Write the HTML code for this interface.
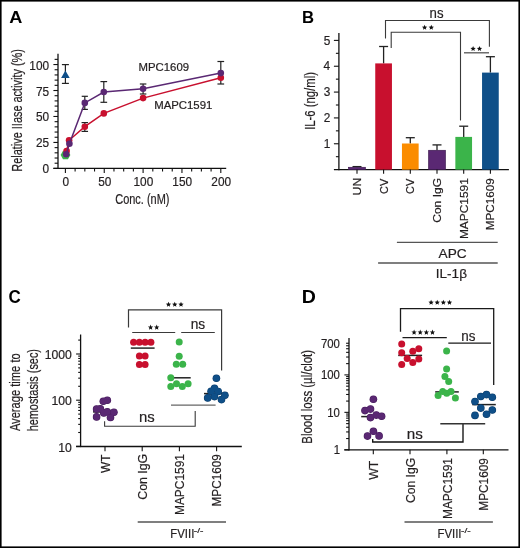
<!DOCTYPE html>
<html><head><meta charset="utf-8"><style>
html,body{margin:0;padding:0;background:#fff;}
body{width:520px;height:548px;overflow:hidden;}
svg{display:block;font-family:"Liberation Sans", sans-serif;will-change:transform;}
</style></head><body>
<svg width="520" height="548" viewBox="0 0 520 548">
<rect x="0" y="0" width="520" height="548" fill="#fff"/>
<text x="9.15" y="22.80" font-size="17.2" font-weight="bold" fill="#000" text-anchor="start" textLength="13.13" lengthAdjust="spacingAndGlyphs">A</text>
<text x="302.08" y="23.10" font-size="17.2" font-weight="bold" fill="#000" text-anchor="start" textLength="12.08" lengthAdjust="spacingAndGlyphs">B</text>
<text x="8.50" y="302.50" font-size="17.9" font-weight="bold" fill="#000" text-anchor="start" textLength="12.26" lengthAdjust="spacingAndGlyphs">C</text>
<text x="301.79" y="302.50" font-size="17.7" font-weight="bold" fill="#000" text-anchor="start" textLength="14.13" lengthAdjust="spacingAndGlyphs">D</text>
<line x1="58.00" y1="53.77" x2="58.00" y2="168.90" stroke="#111" stroke-width="1.3" stroke-linecap="butt"/>
<line x1="53.40" y1="168.30" x2="226.20" y2="168.30" stroke="#111" stroke-width="1.3" stroke-linecap="butt"/>
<line x1="53.40" y1="168.40" x2="58.00" y2="168.40" stroke="#111" stroke-width="1.1" stroke-linecap="butt"/>
<line x1="54.60" y1="163.21" x2="58.00" y2="163.21" stroke="#111" stroke-width="1.1" stroke-linecap="butt"/>
<line x1="54.60" y1="158.02" x2="58.00" y2="158.02" stroke="#111" stroke-width="1.1" stroke-linecap="butt"/>
<line x1="54.60" y1="152.82" x2="58.00" y2="152.82" stroke="#111" stroke-width="1.1" stroke-linecap="butt"/>
<line x1="54.60" y1="147.63" x2="58.00" y2="147.63" stroke="#111" stroke-width="1.1" stroke-linecap="butt"/>
<line x1="53.40" y1="142.44" x2="58.00" y2="142.44" stroke="#111" stroke-width="1.1" stroke-linecap="butt"/>
<line x1="54.60" y1="137.25" x2="58.00" y2="137.25" stroke="#111" stroke-width="1.1" stroke-linecap="butt"/>
<line x1="54.60" y1="132.05" x2="58.00" y2="132.05" stroke="#111" stroke-width="1.1" stroke-linecap="butt"/>
<line x1="54.60" y1="126.86" x2="58.00" y2="126.86" stroke="#111" stroke-width="1.1" stroke-linecap="butt"/>
<line x1="54.60" y1="121.67" x2="58.00" y2="121.67" stroke="#111" stroke-width="1.1" stroke-linecap="butt"/>
<line x1="53.40" y1="116.48" x2="58.00" y2="116.48" stroke="#111" stroke-width="1.1" stroke-linecap="butt"/>
<line x1="54.60" y1="111.28" x2="58.00" y2="111.28" stroke="#111" stroke-width="1.1" stroke-linecap="butt"/>
<line x1="54.60" y1="106.09" x2="58.00" y2="106.09" stroke="#111" stroke-width="1.1" stroke-linecap="butt"/>
<line x1="54.60" y1="100.90" x2="58.00" y2="100.90" stroke="#111" stroke-width="1.1" stroke-linecap="butt"/>
<line x1="54.60" y1="95.71" x2="58.00" y2="95.71" stroke="#111" stroke-width="1.1" stroke-linecap="butt"/>
<line x1="53.40" y1="90.51" x2="58.00" y2="90.51" stroke="#111" stroke-width="1.1" stroke-linecap="butt"/>
<line x1="54.60" y1="85.32" x2="58.00" y2="85.32" stroke="#111" stroke-width="1.1" stroke-linecap="butt"/>
<line x1="54.60" y1="80.13" x2="58.00" y2="80.13" stroke="#111" stroke-width="1.1" stroke-linecap="butt"/>
<line x1="54.60" y1="74.94" x2="58.00" y2="74.94" stroke="#111" stroke-width="1.1" stroke-linecap="butt"/>
<line x1="54.60" y1="69.74" x2="58.00" y2="69.74" stroke="#111" stroke-width="1.1" stroke-linecap="butt"/>
<line x1="53.40" y1="64.55" x2="58.00" y2="64.55" stroke="#111" stroke-width="1.1" stroke-linecap="butt"/>
<line x1="54.60" y1="59.36" x2="58.00" y2="59.36" stroke="#111" stroke-width="1.1" stroke-linecap="butt"/>
<line x1="65.40" y1="168.30" x2="65.40" y2="172.90" stroke="#111" stroke-width="1.1" stroke-linecap="butt"/>
<line x1="75.11" y1="168.30" x2="75.11" y2="171.50" stroke="#111" stroke-width="1.1" stroke-linecap="butt"/>
<line x1="84.83" y1="168.30" x2="84.83" y2="171.50" stroke="#111" stroke-width="1.1" stroke-linecap="butt"/>
<line x1="94.54" y1="168.30" x2="94.54" y2="171.50" stroke="#111" stroke-width="1.1" stroke-linecap="butt"/>
<line x1="104.25" y1="168.30" x2="104.25" y2="172.90" stroke="#111" stroke-width="1.1" stroke-linecap="butt"/>
<line x1="113.96" y1="168.30" x2="113.96" y2="171.50" stroke="#111" stroke-width="1.1" stroke-linecap="butt"/>
<line x1="123.68" y1="168.30" x2="123.68" y2="171.50" stroke="#111" stroke-width="1.1" stroke-linecap="butt"/>
<line x1="133.39" y1="168.30" x2="133.39" y2="171.50" stroke="#111" stroke-width="1.1" stroke-linecap="butt"/>
<line x1="143.10" y1="168.30" x2="143.10" y2="172.90" stroke="#111" stroke-width="1.1" stroke-linecap="butt"/>
<line x1="152.81" y1="168.30" x2="152.81" y2="171.50" stroke="#111" stroke-width="1.1" stroke-linecap="butt"/>
<line x1="162.53" y1="168.30" x2="162.53" y2="171.50" stroke="#111" stroke-width="1.1" stroke-linecap="butt"/>
<line x1="172.24" y1="168.30" x2="172.24" y2="171.50" stroke="#111" stroke-width="1.1" stroke-linecap="butt"/>
<line x1="181.95" y1="168.30" x2="181.95" y2="172.90" stroke="#111" stroke-width="1.1" stroke-linecap="butt"/>
<line x1="191.66" y1="168.30" x2="191.66" y2="171.50" stroke="#111" stroke-width="1.1" stroke-linecap="butt"/>
<line x1="201.38" y1="168.30" x2="201.38" y2="171.50" stroke="#111" stroke-width="1.1" stroke-linecap="butt"/>
<line x1="211.09" y1="168.30" x2="211.09" y2="171.50" stroke="#111" stroke-width="1.1" stroke-linecap="butt"/>
<line x1="220.80" y1="168.30" x2="220.80" y2="172.90" stroke="#111" stroke-width="1.1" stroke-linecap="butt"/>
<text x="42.48" y="173.40" font-size="12.2" font-weight="normal" fill="#231f20" text-anchor="start" textLength="6.58" lengthAdjust="spacingAndGlyphs" stroke="#231f20" stroke-width="0.2">0</text>
<text x="35.93" y="147.44" font-size="12.2" font-weight="normal" fill="#231f20" text-anchor="start" textLength="13.16" lengthAdjust="spacingAndGlyphs" stroke="#231f20" stroke-width="0.2">25</text>
<text x="35.90" y="121.48" font-size="12.2" font-weight="normal" fill="#231f20" text-anchor="start" textLength="13.16" lengthAdjust="spacingAndGlyphs" stroke="#231f20" stroke-width="0.2">50</text>
<text x="35.93" y="95.51" font-size="12.2" font-weight="normal" fill="#231f20" text-anchor="start" textLength="13.16" lengthAdjust="spacingAndGlyphs" stroke="#231f20" stroke-width="0.2">75</text>
<text x="29.32" y="69.55" font-size="12.2" font-weight="normal" fill="#231f20" text-anchor="start" textLength="19.74" lengthAdjust="spacingAndGlyphs" stroke="#231f20" stroke-width="0.2">100</text>
<text x="62.61" y="186.10" font-size="12.2" font-weight="normal" fill="#231f20" text-anchor="start" textLength="6.58" lengthAdjust="spacingAndGlyphs" stroke="#231f20" stroke-width="0.2">0</text>
<text x="98.16" y="186.10" font-size="12.2" font-weight="normal" fill="#231f20" text-anchor="start" textLength="13.16" lengthAdjust="spacingAndGlyphs" stroke="#231f20" stroke-width="0.2">50</text>
<text x="133.51" y="186.10" font-size="12.2" font-weight="normal" fill="#231f20" text-anchor="start" textLength="19.74" lengthAdjust="spacingAndGlyphs" stroke="#231f20" stroke-width="0.2">100</text>
<text x="172.36" y="186.10" font-size="12.2" font-weight="normal" fill="#231f20" text-anchor="start" textLength="19.74" lengthAdjust="spacingAndGlyphs" stroke="#231f20" stroke-width="0.2">150</text>
<text x="211.36" y="186.10" font-size="12.2" font-weight="normal" fill="#231f20" text-anchor="start" textLength="19.74" lengthAdjust="spacingAndGlyphs" stroke="#231f20" stroke-width="0.2">200</text>
<text x="115.24" y="203.60" font-size="14" font-weight="normal" fill="#231f20" text-anchor="start" textLength="54.24" lengthAdjust="spacingAndGlyphs" stroke="#231f20" stroke-width="0.2">Conc. (nM)</text>
<text transform="translate(22.20,171.70) rotate(-90)" x="0" y="0" font-size="14" font-weight="normal" fill="#231f20" textLength="122.67" lengthAdjust="spacingAndGlyphs" stroke="#231f20" stroke-width="0.2">Relative IIase activity (%)</text>
<line x1="65.40" y1="64.60" x2="65.40" y2="83.40" stroke="#222" stroke-width="1.2" stroke-linecap="butt"/>
<line x1="61.90" y1="64.60" x2="68.90" y2="64.60" stroke="#222" stroke-width="1.2" stroke-linecap="butt"/>
<line x1="61.90" y1="83.40" x2="68.90" y2="83.40" stroke="#222" stroke-width="1.2" stroke-linecap="butt"/>
<line x1="84.80" y1="122.60" x2="84.80" y2="131.40" stroke="#222" stroke-width="1.2" stroke-linecap="butt"/>
<line x1="81.55" y1="122.60" x2="88.05" y2="122.60" stroke="#222" stroke-width="1.2" stroke-linecap="butt"/>
<line x1="81.55" y1="131.40" x2="88.05" y2="131.40" stroke="#222" stroke-width="1.2" stroke-linecap="butt"/>
<line x1="84.80" y1="96.30" x2="84.80" y2="109.40" stroke="#222" stroke-width="1.2" stroke-linecap="butt"/>
<line x1="81.70" y1="96.30" x2="87.90" y2="96.30" stroke="#222" stroke-width="1.2" stroke-linecap="butt"/>
<line x1="81.70" y1="109.40" x2="87.90" y2="109.40" stroke="#222" stroke-width="1.2" stroke-linecap="butt"/>
<line x1="103.80" y1="81.60" x2="103.80" y2="102.30" stroke="#222" stroke-width="1.2" stroke-linecap="butt"/>
<line x1="100.45" y1="81.60" x2="107.15" y2="81.60" stroke="#222" stroke-width="1.2" stroke-linecap="butt"/>
<line x1="100.45" y1="102.30" x2="107.15" y2="102.30" stroke="#222" stroke-width="1.2" stroke-linecap="butt"/>
<line x1="143.10" y1="84.00" x2="143.10" y2="94.00" stroke="#222" stroke-width="1.2" stroke-linecap="butt"/>
<line x1="139.85" y1="84.00" x2="146.35" y2="84.00" stroke="#222" stroke-width="1.2" stroke-linecap="butt"/>
<line x1="139.85" y1="94.00" x2="146.35" y2="94.00" stroke="#222" stroke-width="1.2" stroke-linecap="butt"/>
<line x1="220.80" y1="61.50" x2="220.80" y2="84.00" stroke="#222" stroke-width="1.2" stroke-linecap="butt"/>
<line x1="217.45" y1="61.50" x2="224.15" y2="61.50" stroke="#222" stroke-width="1.2" stroke-linecap="butt"/>
<line x1="217.45" y1="84.00" x2="224.15" y2="84.00" stroke="#222" stroke-width="1.2" stroke-linecap="butt"/>
<polygon points="70.40,155.00 67.95,159.24 63.05,159.24 60.60,155.00 63.05,150.76 67.95,150.76" fill="#3bb44a"/>
<polyline points="66.60,151.00 69.10,140.30 84.80,126.70 103.80,113.40 143.10,98.10 220.80,77.70" stroke="#c8102e" stroke-width="1.5" fill="none" stroke-linejoin="miter"/>
<circle cx="66.60" cy="151.00" r="3.3" fill="#c8102e"/>
<circle cx="69.10" cy="140.30" r="3.3" fill="#c8102e"/>
<circle cx="84.80" cy="126.70" r="3.3" fill="#c8102e"/>
<circle cx="103.80" cy="113.40" r="3.3" fill="#c8102e"/>
<circle cx="143.10" cy="98.10" r="3.3" fill="#c8102e"/>
<circle cx="220.80" cy="77.70" r="3.3" fill="#c8102e"/>
<polyline points="66.20,154.20 69.40,143.70 84.80,102.90 103.80,92.00 143.10,88.80 220.80,73.10" stroke="#5a2873" stroke-width="1.5" fill="none" stroke-linejoin="miter"/>
<circle cx="66.20" cy="154.20" r="3.3" fill="#5a2873"/>
<circle cx="69.40" cy="143.70" r="3.3" fill="#5a2873"/>
<circle cx="84.80" cy="102.90" r="3.3" fill="#5a2873"/>
<circle cx="103.80" cy="92.00" r="3.3" fill="#5a2873"/>
<circle cx="143.10" cy="88.80" r="3.3" fill="#5a2873"/>
<circle cx="220.80" cy="73.10" r="3.3" fill="#5a2873"/>
<polygon points="65.4,70.6 69.7,78.1 61.1,78.1" fill="#0f4f88"/>
<text x="138.57" y="71.40" font-size="10.6" font-weight="normal" fill="#231f20" text-anchor="start" textLength="50.47" lengthAdjust="spacingAndGlyphs" stroke="#231f20" stroke-width="0.2">MPC1609</text>
<text x="154.17" y="108.60" font-size="10.6" font-weight="normal" fill="#231f20" text-anchor="start" textLength="58.19" lengthAdjust="spacingAndGlyphs" stroke="#231f20" stroke-width="0.2">MAPC1591</text>
<line x1="338.90" y1="33.10" x2="338.90" y2="170.20" stroke="#111" stroke-width="1.3" stroke-linecap="butt"/>
<line x1="333.90" y1="169.60" x2="508.90" y2="169.60" stroke="#111" stroke-width="1.3" stroke-linecap="butt"/>
<line x1="335.90" y1="156.68" x2="338.90" y2="156.68" stroke="#111" stroke-width="1.1" stroke-linecap="butt"/>
<line x1="333.90" y1="143.76" x2="338.90" y2="143.76" stroke="#111" stroke-width="1.1" stroke-linecap="butt"/>
<line x1="335.90" y1="130.84" x2="338.90" y2="130.84" stroke="#111" stroke-width="1.1" stroke-linecap="butt"/>
<line x1="333.90" y1="117.92" x2="338.90" y2="117.92" stroke="#111" stroke-width="1.1" stroke-linecap="butt"/>
<line x1="335.90" y1="105.00" x2="338.90" y2="105.00" stroke="#111" stroke-width="1.1" stroke-linecap="butt"/>
<line x1="333.90" y1="92.08" x2="338.90" y2="92.08" stroke="#111" stroke-width="1.1" stroke-linecap="butt"/>
<line x1="335.90" y1="79.16" x2="338.90" y2="79.16" stroke="#111" stroke-width="1.1" stroke-linecap="butt"/>
<line x1="333.90" y1="66.24" x2="338.90" y2="66.24" stroke="#111" stroke-width="1.1" stroke-linecap="butt"/>
<line x1="335.90" y1="53.32" x2="338.90" y2="53.32" stroke="#111" stroke-width="1.1" stroke-linecap="butt"/>
<line x1="333.90" y1="40.40" x2="338.90" y2="40.40" stroke="#111" stroke-width="1.1" stroke-linecap="butt"/>
<text x="323.80" y="147.96" font-size="12.2" font-weight="normal" fill="#231f20" text-anchor="start" textLength="6.58" lengthAdjust="spacingAndGlyphs" stroke="#231f20" stroke-width="0.2">1</text>
<text x="323.81" y="122.12" font-size="12.2" font-weight="normal" fill="#231f20" text-anchor="start" textLength="6.58" lengthAdjust="spacingAndGlyphs" stroke="#231f20" stroke-width="0.2">2</text>
<text x="323.74" y="96.28" font-size="12.2" font-weight="normal" fill="#231f20" text-anchor="start" textLength="6.58" lengthAdjust="spacingAndGlyphs" stroke="#231f20" stroke-width="0.2">3</text>
<text x="323.57" y="70.44" font-size="12.2" font-weight="normal" fill="#231f20" text-anchor="start" textLength="6.58" lengthAdjust="spacingAndGlyphs" stroke="#231f20" stroke-width="0.2">4</text>
<text x="323.72" y="44.60" font-size="12.2" font-weight="normal" fill="#231f20" text-anchor="start" textLength="6.58" lengthAdjust="spacingAndGlyphs" stroke="#231f20" stroke-width="0.2">5</text>
<text transform="translate(315.00,129.84) rotate(-90)" x="0" y="0" font-size="14" font-weight="normal" fill="#231f20" textLength="57.74" lengthAdjust="spacingAndGlyphs" stroke="#231f20" stroke-width="0.2">IL-6 (ng/ml)</text>
<line x1="357.00" y1="167.30" x2="357.00" y2="166.60" stroke="#222" stroke-width="1.3" stroke-linecap="butt"/>
<line x1="352.50" y1="166.60" x2="361.50" y2="166.60" stroke="#222" stroke-width="1.3" stroke-linecap="butt"/>
<rect x="348.65" y="167.30" width="16.7" height="2.30" fill="#5a2873" stroke="#3d1a50" stroke-width="0.7"/>
<line x1="383.60" y1="63.40" x2="383.60" y2="46.50" stroke="#222" stroke-width="1.3" stroke-linecap="butt"/>
<line x1="379.10" y1="46.50" x2="388.10" y2="46.50" stroke="#222" stroke-width="1.3" stroke-linecap="butt"/>
<rect x="375.25" y="63.40" width="16.7" height="106.20" fill="#c8102e"/>
<line x1="410.30" y1="143.50" x2="410.30" y2="137.70" stroke="#222" stroke-width="1.3" stroke-linecap="butt"/>
<line x1="405.80" y1="137.70" x2="414.80" y2="137.70" stroke="#222" stroke-width="1.3" stroke-linecap="butt"/>
<rect x="401.95" y="143.50" width="16.7" height="26.10" fill="#fb8c00"/>
<line x1="437.00" y1="150.30" x2="437.00" y2="144.90" stroke="#222" stroke-width="1.3" stroke-linecap="butt"/>
<line x1="432.50" y1="144.90" x2="441.50" y2="144.90" stroke="#222" stroke-width="1.3" stroke-linecap="butt"/>
<rect x="428.65" y="150.30" width="16.7" height="19.30" fill="#5a2873" stroke="#3d1a50" stroke-width="0.7"/>
<line x1="463.70" y1="136.90" x2="463.70" y2="126.20" stroke="#222" stroke-width="1.3" stroke-linecap="butt"/>
<line x1="459.20" y1="126.20" x2="468.20" y2="126.20" stroke="#222" stroke-width="1.3" stroke-linecap="butt"/>
<rect x="455.35" y="136.90" width="16.7" height="32.70" fill="#3bb44a"/>
<line x1="490.40" y1="72.60" x2="490.40" y2="56.70" stroke="#222" stroke-width="1.3" stroke-linecap="butt"/>
<line x1="485.90" y1="56.70" x2="494.90" y2="56.70" stroke="#222" stroke-width="1.3" stroke-linecap="butt"/>
<rect x="482.05" y="72.60" width="16.7" height="97.00" fill="#0f4f88"/>
<line x1="357.00" y1="169.60" x2="357.00" y2="173.80" stroke="#111" stroke-width="1.1" stroke-linecap="butt"/>
<line x1="383.60" y1="169.60" x2="383.60" y2="173.80" stroke="#111" stroke-width="1.1" stroke-linecap="butt"/>
<line x1="410.30" y1="169.60" x2="410.30" y2="173.80" stroke="#111" stroke-width="1.1" stroke-linecap="butt"/>
<line x1="437.00" y1="169.60" x2="437.00" y2="173.80" stroke="#111" stroke-width="1.1" stroke-linecap="butt"/>
<line x1="463.70" y1="169.60" x2="463.70" y2="173.80" stroke="#111" stroke-width="1.1" stroke-linecap="butt"/>
<line x1="490.40" y1="169.60" x2="490.40" y2="173.80" stroke="#111" stroke-width="1.1" stroke-linecap="butt"/>
<text transform="translate(361.00,195.44) rotate(-90)" x="0" y="0" font-size="11.8" font-weight="normal" fill="#231f20" textLength="17.64" lengthAdjust="spacingAndGlyphs" stroke="#231f20" stroke-width="0.2">UN</text>
<text transform="translate(387.60,193.96) rotate(-90)" x="0" y="0" font-size="11.8" font-weight="normal" fill="#231f20" textLength="15.20" lengthAdjust="spacingAndGlyphs" stroke="#231f20" stroke-width="0.2">CV</text>
<text transform="translate(414.30,193.96) rotate(-90)" x="0" y="0" font-size="11.8" font-weight="normal" fill="#231f20" textLength="15.20" lengthAdjust="spacingAndGlyphs" stroke="#231f20" stroke-width="0.2">CV</text>
<text transform="translate(441.00,222.81) rotate(-90)" x="0" y="0" font-size="11.8" font-weight="normal" fill="#231f20" textLength="44.91" lengthAdjust="spacingAndGlyphs" stroke="#231f20" stroke-width="0.2">Con IgG</text>
<text transform="translate(467.70,239.08) rotate(-90)" x="0" y="0" font-size="11.8" font-weight="normal" fill="#231f20" textLength="60.86" lengthAdjust="spacingAndGlyphs" stroke="#231f20" stroke-width="0.2">MAPC1591</text>
<text transform="translate(494.40,230.26) rotate(-90)" x="0" y="0" font-size="11.8" font-weight="normal" fill="#231f20" textLength="52.01" lengthAdjust="spacingAndGlyphs" stroke="#231f20" stroke-width="0.2">MPC1609</text>
<line x1="396.90" y1="242.40" x2="497.70" y2="242.40" stroke="#555" stroke-width="1.3" stroke-linecap="butt"/>
<line x1="378.10" y1="263.00" x2="497.70" y2="263.00" stroke="#555" stroke-width="1.3" stroke-linecap="butt"/>
<text x="438.57" y="258.00" font-size="13.6" font-weight="normal" fill="#231f20" text-anchor="start" textLength="28.05" lengthAdjust="spacingAndGlyphs" stroke="#231f20" stroke-width="0.2">APC</text>
<text x="435.75" y="278.30" font-size="13.6" font-weight="normal" fill="#231f20" text-anchor="start" textLength="31.19" lengthAdjust="spacingAndGlyphs" stroke="#231f20" stroke-width="0.2">IL-1&#946;</text>
<polyline points="385.50,38.60 385.50,20.50 489.40,20.50 489.40,46.70" stroke="#3a3a3a" stroke-width="1.1" fill="none" stroke-linejoin="miter"/>
<polyline points="391.20,47.90 391.20,32.30 460.50,32.30 460.50,120.50" stroke="#3a3a3a" stroke-width="1.1" fill="none" stroke-linejoin="miter"/>
<line x1="464.00" y1="52.80" x2="489.00" y2="52.80" stroke="#555" stroke-width="1.3" stroke-linecap="butt"/>
<text x="429.62" y="17.80" font-size="14" font-weight="normal" fill="#231f20" text-anchor="start" textLength="13.95" lengthAdjust="spacingAndGlyphs" stroke="#231f20" stroke-width="0.2">ns</text>
<polygon points="424.60,24.80 425.34,26.58 427.26,26.73 425.80,27.99 426.25,29.87 424.60,28.86 422.95,29.87 423.40,27.99 421.94,26.73 423.86,26.58" fill="#111"/>
<polygon points="431.30,24.80 432.04,26.58 433.96,26.73 432.50,27.99 432.95,29.87 431.30,28.86 429.65,29.87 430.10,27.99 428.64,26.73 430.56,26.58" fill="#111"/>
<polygon points="473.10,46.00 473.84,47.78 475.76,47.93 474.30,49.19 474.75,51.07 473.10,50.06 471.45,51.07 471.90,49.19 470.44,47.93 472.36,47.78" fill="#111"/>
<polygon points="479.50,46.00 480.24,47.78 482.16,47.93 480.70,49.19 481.15,51.07 479.50,50.06 477.85,51.07 478.30,49.19 476.84,47.93 478.76,47.78" fill="#111"/>
<line x1="80.60" y1="334.50" x2="80.60" y2="447.10" stroke="#111" stroke-width="1.3" stroke-linecap="butt"/>
<line x1="76.10" y1="446.50" x2="241.80" y2="446.50" stroke="#111" stroke-width="1.3" stroke-linecap="butt"/>
<line x1="76.10" y1="446.40" x2="80.60" y2="446.40" stroke="#111" stroke-width="1.1" stroke-linecap="butt"/>
<line x1="78.20" y1="432.49" x2="80.60" y2="432.49" stroke="#111" stroke-width="1.1" stroke-linecap="butt"/>
<line x1="78.20" y1="424.36" x2="80.60" y2="424.36" stroke="#111" stroke-width="1.1" stroke-linecap="butt"/>
<line x1="78.20" y1="418.58" x2="80.60" y2="418.58" stroke="#111" stroke-width="1.1" stroke-linecap="butt"/>
<line x1="78.20" y1="414.11" x2="80.60" y2="414.11" stroke="#111" stroke-width="1.1" stroke-linecap="butt"/>
<line x1="78.20" y1="410.45" x2="80.60" y2="410.45" stroke="#111" stroke-width="1.1" stroke-linecap="butt"/>
<line x1="78.20" y1="407.36" x2="80.60" y2="407.36" stroke="#111" stroke-width="1.1" stroke-linecap="butt"/>
<line x1="78.20" y1="404.68" x2="80.60" y2="404.68" stroke="#111" stroke-width="1.1" stroke-linecap="butt"/>
<line x1="78.20" y1="402.31" x2="80.60" y2="402.31" stroke="#111" stroke-width="1.1" stroke-linecap="butt"/>
<line x1="76.10" y1="400.20" x2="80.60" y2="400.20" stroke="#111" stroke-width="1.1" stroke-linecap="butt"/>
<line x1="78.20" y1="386.29" x2="80.60" y2="386.29" stroke="#111" stroke-width="1.1" stroke-linecap="butt"/>
<line x1="78.20" y1="378.16" x2="80.60" y2="378.16" stroke="#111" stroke-width="1.1" stroke-linecap="butt"/>
<line x1="78.20" y1="372.38" x2="80.60" y2="372.38" stroke="#111" stroke-width="1.1" stroke-linecap="butt"/>
<line x1="78.20" y1="367.91" x2="80.60" y2="367.91" stroke="#111" stroke-width="1.1" stroke-linecap="butt"/>
<line x1="78.20" y1="364.25" x2="80.60" y2="364.25" stroke="#111" stroke-width="1.1" stroke-linecap="butt"/>
<line x1="78.20" y1="361.16" x2="80.60" y2="361.16" stroke="#111" stroke-width="1.1" stroke-linecap="butt"/>
<line x1="78.20" y1="358.48" x2="80.60" y2="358.48" stroke="#111" stroke-width="1.1" stroke-linecap="butt"/>
<line x1="78.20" y1="356.11" x2="80.60" y2="356.11" stroke="#111" stroke-width="1.1" stroke-linecap="butt"/>
<line x1="76.10" y1="354.00" x2="80.60" y2="354.00" stroke="#111" stroke-width="1.1" stroke-linecap="butt"/>
<line x1="78.20" y1="340.09" x2="80.60" y2="340.09" stroke="#111" stroke-width="1.1" stroke-linecap="butt"/>
<text x="58.31" y="451.50" font-size="12.2" font-weight="normal" fill="#231f20" text-anchor="start" textLength="13.57" lengthAdjust="spacingAndGlyphs" stroke="#231f20" stroke-width="0.2">10</text>
<text x="51.52" y="405.30" font-size="12.2" font-weight="normal" fill="#231f20" text-anchor="start" textLength="20.36" lengthAdjust="spacingAndGlyphs" stroke="#231f20" stroke-width="0.2">100</text>
<text x="44.74" y="359.10" font-size="12.2" font-weight="normal" fill="#231f20" text-anchor="start" textLength="27.14" lengthAdjust="spacingAndGlyphs" stroke="#231f20" stroke-width="0.2">1000</text>
<text transform="translate(20.20,431.12) rotate(-90)" x="0" y="0" font-size="14" font-weight="normal" fill="#231f20" textLength="77.79" lengthAdjust="spacingAndGlyphs" stroke="#231f20" stroke-width="0.2">Average time to</text>
<text transform="translate(38.20,431.36) rotate(-90)" x="0" y="0" font-size="14" font-weight="normal" fill="#231f20" textLength="82.33" lengthAdjust="spacingAndGlyphs" stroke="#231f20" stroke-width="0.2">hemostasis (sec)</text>
<line x1="105.00" y1="446.50" x2="105.00" y2="451.20" stroke="#111" stroke-width="1.1" stroke-linecap="butt"/>
<line x1="142.20" y1="446.50" x2="142.20" y2="451.20" stroke="#111" stroke-width="1.1" stroke-linecap="butt"/>
<line x1="179.40" y1="446.50" x2="179.40" y2="451.20" stroke="#111" stroke-width="1.1" stroke-linecap="butt"/>
<line x1="216.60" y1="446.50" x2="216.60" y2="451.20" stroke="#111" stroke-width="1.1" stroke-linecap="butt"/>
<text transform="translate(109.60,472.95) rotate(-90)" x="0" y="0" font-size="12.6" font-weight="normal" fill="#231f20" textLength="18.53" lengthAdjust="spacingAndGlyphs" stroke="#231f20" stroke-width="0.2">WT</text>
<text transform="translate(146.80,499.73) rotate(-90)" x="0" y="0" font-size="12.6" font-weight="normal" fill="#231f20" textLength="45.95" lengthAdjust="spacingAndGlyphs" stroke="#231f20" stroke-width="0.2">Con IgG</text>
<text transform="translate(184.00,514.98) rotate(-90)" x="0" y="0" font-size="12.6" font-weight="normal" fill="#231f20" textLength="60.86" lengthAdjust="spacingAndGlyphs" stroke="#231f20" stroke-width="0.2">MAPC1591</text>
<text transform="translate(221.20,506.47) rotate(-90)" x="0" y="0" font-size="12.6" font-weight="normal" fill="#231f20" textLength="52.32" lengthAdjust="spacingAndGlyphs" stroke="#231f20" stroke-width="0.2">MPC1609</text>
<line x1="137.70" y1="522.00" x2="226.00" y2="522.00" stroke="#555" stroke-width="1.3" stroke-linecap="butt"/>
<text x="170.26" y="537.60" font-size="12.6" font-weight="normal" fill="#231f20" text-anchor="start" textLength="24.09" lengthAdjust="spacingAndGlyphs" stroke="#231f20" stroke-width="0.2">FVIII</text>
<text x="193.85" y="532.60" font-size="7" font-weight="normal" fill="#231f20" text-anchor="start" textLength="9.60" lengthAdjust="spacingAndGlyphs" stroke="#231f20" stroke-width="0.2">-/-</text>
<line x1="93.00" y1="411.90" x2="117.00" y2="411.90" stroke="#222" stroke-width="1.5" stroke-linecap="butt"/>
<line x1="130.80" y1="348.10" x2="154.60" y2="348.10" stroke="#333" stroke-width="1.6" stroke-linecap="butt"/>
<line x1="168.00" y1="377.80" x2="190.70" y2="377.80" stroke="#222" stroke-width="1.5" stroke-linecap="butt"/>
<line x1="204.00" y1="393.60" x2="228.00" y2="393.60" stroke="#222" stroke-width="1.5" stroke-linecap="butt"/>
<circle cx="103.30" cy="401.30" r="3.8" fill="#44195a"/>
<circle cx="107.30" cy="400.20" r="3.8" fill="#44195a"/>
<circle cx="96.60" cy="409.10" r="3.8" fill="#44195a"/>
<circle cx="100.40" cy="408.80" r="3.8" fill="#44195a"/>
<circle cx="103.80" cy="412.90" r="3.8" fill="#44195a"/>
<circle cx="107.30" cy="411.70" r="3.8" fill="#44195a"/>
<circle cx="113.90" cy="412.30" r="3.8" fill="#44195a"/>
<circle cx="96.60" cy="416.90" r="3.8" fill="#44195a"/>
<circle cx="110.50" cy="417.50" r="3.8" fill="#44195a"/>
<circle cx="103.30" cy="401.30" r="3.3" fill="#5a2873"/>
<circle cx="107.30" cy="400.20" r="3.3" fill="#5a2873"/>
<circle cx="96.60" cy="409.10" r="3.3" fill="#5a2873"/>
<circle cx="100.40" cy="408.80" r="3.3" fill="#5a2873"/>
<circle cx="103.80" cy="412.90" r="3.3" fill="#5a2873"/>
<circle cx="107.30" cy="411.70" r="3.3" fill="#5a2873"/>
<circle cx="113.90" cy="412.30" r="3.3" fill="#5a2873"/>
<circle cx="96.60" cy="416.90" r="3.3" fill="#5a2873"/>
<circle cx="110.50" cy="417.50" r="3.3" fill="#5a2873"/>
<circle cx="133.60" cy="342.20" r="3.5" fill="#c8102e"/>
<circle cx="139.40" cy="342.20" r="3.5" fill="#c8102e"/>
<circle cx="145.10" cy="342.20" r="3.5" fill="#c8102e"/>
<circle cx="150.90" cy="342.20" r="3.5" fill="#c8102e"/>
<circle cx="139.40" cy="356.10" r="3.5" fill="#c8102e"/>
<circle cx="145.10" cy="356.10" r="3.5" fill="#c8102e"/>
<circle cx="139.40" cy="364.50" r="3.5" fill="#c8102e"/>
<circle cx="145.10" cy="364.50" r="3.5" fill="#c8102e"/>
<circle cx="179.20" cy="342.10" r="3.5" fill="#3bb44a"/>
<circle cx="179.20" cy="356.20" r="3.5" fill="#3bb44a"/>
<circle cx="176.30" cy="364.20" r="3.5" fill="#3bb44a"/>
<circle cx="182.70" cy="364.20" r="3.5" fill="#3bb44a"/>
<circle cx="170.80" cy="377.80" r="3.5" fill="#3bb44a"/>
<circle cx="170.80" cy="386.40" r="3.5" fill="#3bb44a"/>
<circle cx="176.50" cy="383.80" r="3.5" fill="#3bb44a"/>
<circle cx="182.30" cy="386.40" r="3.5" fill="#3bb44a"/>
<circle cx="188.10" cy="383.80" r="3.5" fill="#3bb44a"/>
<circle cx="216.40" cy="378.20" r="3.8" fill="#0a3b68"/>
<circle cx="214.50" cy="388.20" r="3.8" fill="#0a3b68"/>
<circle cx="211.10" cy="391.20" r="3.8" fill="#0a3b68"/>
<circle cx="218.20" cy="391.50" r="3.8" fill="#0a3b68"/>
<circle cx="207.70" cy="397.90" r="3.8" fill="#0a3b68"/>
<circle cx="214.50" cy="396.60" r="3.8" fill="#0a3b68"/>
<circle cx="221.50" cy="399.60" r="3.8" fill="#0a3b68"/>
<circle cx="224.90" cy="395.20" r="3.8" fill="#0a3b68"/>
<circle cx="216.40" cy="378.20" r="3.3" fill="#0f4f88"/>
<circle cx="214.50" cy="388.20" r="3.3" fill="#0f4f88"/>
<circle cx="211.10" cy="391.20" r="3.3" fill="#0f4f88"/>
<circle cx="218.20" cy="391.50" r="3.3" fill="#0f4f88"/>
<circle cx="207.70" cy="397.90" r="3.3" fill="#0f4f88"/>
<circle cx="214.50" cy="396.60" r="3.3" fill="#0f4f88"/>
<circle cx="221.50" cy="399.60" r="3.3" fill="#0f4f88"/>
<circle cx="224.90" cy="395.20" r="3.3" fill="#0f4f88"/>
<polyline points="128.50,327.50 128.50,309.80 221.60,309.80 221.60,370.50" stroke="#3a3a3a" stroke-width="1.2" fill="none" stroke-linejoin="miter"/>
<line x1="132.20" y1="332.50" x2="175.20" y2="332.50" stroke="#3a3a3a" stroke-width="1.1" stroke-linecap="butt"/>
<line x1="181.20" y1="332.50" x2="214.80" y2="332.50" stroke="#3a3a3a" stroke-width="1.1" stroke-linecap="butt"/>
<polygon points="168.50,301.80 169.24,303.58 171.16,303.73 169.70,304.99 170.15,306.87 168.50,305.86 166.85,306.87 167.30,304.99 165.84,303.73 167.76,303.58" fill="#111"/>
<polygon points="174.75,301.80 175.49,303.58 177.41,303.73 175.95,304.99 176.40,306.87 174.75,305.86 173.10,306.87 173.55,304.99 172.09,303.73 174.01,303.58" fill="#111"/>
<polygon points="181.00,301.80 181.74,303.58 183.66,303.73 182.20,304.99 182.65,306.87 181.00,305.86 179.35,306.87 179.80,304.99 178.34,303.73 180.26,303.58" fill="#111"/>
<polygon points="150.60,324.60 151.34,326.38 153.26,326.53 151.80,327.79 152.25,329.67 150.60,328.66 148.95,329.67 149.40,327.79 147.94,326.53 149.86,326.38" fill="#111"/>
<polygon points="156.70,324.60 157.44,326.38 159.36,326.53 157.90,327.79 158.35,329.67 156.70,328.66 155.05,329.67 155.50,327.79 154.04,326.53 155.96,326.38" fill="#111"/>
<text x="190.69" y="328.70" font-size="14" font-weight="normal" fill="#231f20" text-anchor="start" textLength="14.51" lengthAdjust="spacingAndGlyphs" stroke="#231f20" stroke-width="0.2">ns</text>
<polyline points="104.60,421.30 104.60,426.30 195.20,426.30 195.20,410.90" stroke="#3a3a3a" stroke-width="1.1" fill="none" stroke-linejoin="miter"/>
<line x1="171.00" y1="405.20" x2="215.60" y2="405.20" stroke="#666" stroke-width="1.3" stroke-linecap="butt"/>
<text x="138.91" y="421.70" font-size="15" font-weight="normal" fill="#231f20" text-anchor="start" textLength="15.73" lengthAdjust="spacingAndGlyphs" stroke="#231f20" stroke-width="0.2">ns</text>
<line x1="349.00" y1="338.00" x2="349.00" y2="450.40" stroke="#111" stroke-width="1.3" stroke-linecap="butt"/>
<line x1="344.30" y1="449.80" x2="508.50" y2="449.80" stroke="#111" stroke-width="1.3" stroke-linecap="butt"/>
<line x1="344.40" y1="449.80" x2="349.00" y2="449.80" stroke="#111" stroke-width="1.1" stroke-linecap="butt"/>
<line x1="346.10" y1="438.53" x2="349.00" y2="438.53" stroke="#111" stroke-width="1.1" stroke-linecap="butt"/>
<line x1="346.10" y1="431.93" x2="349.00" y2="431.93" stroke="#111" stroke-width="1.1" stroke-linecap="butt"/>
<line x1="346.10" y1="427.25" x2="349.00" y2="427.25" stroke="#111" stroke-width="1.1" stroke-linecap="butt"/>
<line x1="346.10" y1="423.62" x2="349.00" y2="423.62" stroke="#111" stroke-width="1.1" stroke-linecap="butt"/>
<line x1="346.10" y1="420.66" x2="349.00" y2="420.66" stroke="#111" stroke-width="1.1" stroke-linecap="butt"/>
<line x1="346.10" y1="418.15" x2="349.00" y2="418.15" stroke="#111" stroke-width="1.1" stroke-linecap="butt"/>
<line x1="346.10" y1="415.98" x2="349.00" y2="415.98" stroke="#111" stroke-width="1.1" stroke-linecap="butt"/>
<line x1="346.10" y1="414.06" x2="349.00" y2="414.06" stroke="#111" stroke-width="1.1" stroke-linecap="butt"/>
<line x1="344.40" y1="412.35" x2="349.00" y2="412.35" stroke="#111" stroke-width="1.1" stroke-linecap="butt"/>
<line x1="346.10" y1="401.08" x2="349.00" y2="401.08" stroke="#111" stroke-width="1.1" stroke-linecap="butt"/>
<line x1="346.10" y1="394.48" x2="349.00" y2="394.48" stroke="#111" stroke-width="1.1" stroke-linecap="butt"/>
<line x1="346.10" y1="389.80" x2="349.00" y2="389.80" stroke="#111" stroke-width="1.1" stroke-linecap="butt"/>
<line x1="346.10" y1="386.17" x2="349.00" y2="386.17" stroke="#111" stroke-width="1.1" stroke-linecap="butt"/>
<line x1="346.10" y1="383.21" x2="349.00" y2="383.21" stroke="#111" stroke-width="1.1" stroke-linecap="butt"/>
<line x1="346.10" y1="380.70" x2="349.00" y2="380.70" stroke="#111" stroke-width="1.1" stroke-linecap="butt"/>
<line x1="346.10" y1="378.53" x2="349.00" y2="378.53" stroke="#111" stroke-width="1.1" stroke-linecap="butt"/>
<line x1="346.10" y1="376.61" x2="349.00" y2="376.61" stroke="#111" stroke-width="1.1" stroke-linecap="butt"/>
<line x1="344.40" y1="374.90" x2="349.00" y2="374.90" stroke="#111" stroke-width="1.1" stroke-linecap="butt"/>
<line x1="346.10" y1="363.63" x2="349.00" y2="363.63" stroke="#111" stroke-width="1.1" stroke-linecap="butt"/>
<line x1="346.10" y1="357.03" x2="349.00" y2="357.03" stroke="#111" stroke-width="1.1" stroke-linecap="butt"/>
<line x1="346.10" y1="352.35" x2="349.00" y2="352.35" stroke="#111" stroke-width="1.1" stroke-linecap="butt"/>
<line x1="346.10" y1="348.72" x2="349.00" y2="348.72" stroke="#111" stroke-width="1.1" stroke-linecap="butt"/>
<line x1="346.10" y1="345.76" x2="349.00" y2="345.76" stroke="#111" stroke-width="1.1" stroke-linecap="butt"/>
<line x1="346.10" y1="343.25" x2="349.00" y2="343.25" stroke="#111" stroke-width="1.1" stroke-linecap="butt"/>
<text x="333.64" y="454.10" font-size="12.2" font-weight="normal" fill="#231f20" text-anchor="start" textLength="6.31" lengthAdjust="spacingAndGlyphs" stroke="#231f20" stroke-width="0.2">1</text>
<text x="327.22" y="416.65" font-size="12.2" font-weight="normal" fill="#231f20" text-anchor="start" textLength="12.62" lengthAdjust="spacingAndGlyphs" stroke="#231f20" stroke-width="0.2">10</text>
<text x="320.91" y="379.20" font-size="12.2" font-weight="normal" fill="#231f20" text-anchor="start" textLength="18.93" lengthAdjust="spacingAndGlyphs" stroke="#231f20" stroke-width="0.2">100</text>
<text x="320.91" y="347.55" font-size="12.2" font-weight="normal" fill="#231f20" text-anchor="start" textLength="18.93" lengthAdjust="spacingAndGlyphs" stroke="#231f20" stroke-width="0.2">700</text>
<text transform="translate(312.00,443.74) rotate(-90)" x="0" y="0" font-size="14" font-weight="normal" fill="#231f20" textLength="93.85" lengthAdjust="spacingAndGlyphs" stroke="#231f20" stroke-width="0.2">Blood loss (&#181;l/clot)</text>
<line x1="373.30" y1="449.80" x2="373.30" y2="454.20" stroke="#111" stroke-width="1.1" stroke-linecap="butt"/>
<line x1="410.00" y1="449.80" x2="410.00" y2="454.20" stroke="#111" stroke-width="1.1" stroke-linecap="butt"/>
<line x1="446.90" y1="449.80" x2="446.90" y2="454.20" stroke="#111" stroke-width="1.1" stroke-linecap="butt"/>
<line x1="483.30" y1="449.80" x2="483.30" y2="454.20" stroke="#111" stroke-width="1.1" stroke-linecap="butt"/>
<text transform="translate(377.90,479.85) rotate(-90)" x="0" y="0" font-size="12.6" font-weight="normal" fill="#231f20" textLength="19.14" lengthAdjust="spacingAndGlyphs" stroke="#231f20" stroke-width="0.2">WT</text>
<text transform="translate(414.60,503.12) rotate(-90)" x="0" y="0" font-size="12.6" font-weight="normal" fill="#231f20" textLength="45.33" lengthAdjust="spacingAndGlyphs" stroke="#231f20" stroke-width="0.2">Con IgG</text>
<text transform="translate(451.50,518.98) rotate(-90)" x="0" y="0" font-size="12.6" font-weight="normal" fill="#231f20" textLength="60.86" lengthAdjust="spacingAndGlyphs" stroke="#231f20" stroke-width="0.2">MAPC1591</text>
<text transform="translate(487.90,510.67) rotate(-90)" x="0" y="0" font-size="12.6" font-weight="normal" fill="#231f20" textLength="52.53" lengthAdjust="spacingAndGlyphs" stroke="#231f20" stroke-width="0.2">MPC1609</text>
<line x1="404.50" y1="522.00" x2="492.90" y2="522.00" stroke="#555" stroke-width="1.3" stroke-linecap="butt"/>
<text x="437.46" y="537.60" font-size="12.6" font-weight="normal" fill="#231f20" text-anchor="start" textLength="24.09" lengthAdjust="spacingAndGlyphs" stroke="#231f20" stroke-width="0.2">FVIII</text>
<text x="461.05" y="532.60" font-size="7" font-weight="normal" fill="#231f20" text-anchor="start" textLength="9.60" lengthAdjust="spacingAndGlyphs" stroke="#231f20" stroke-width="0.2">-/-</text>
<line x1="361.20" y1="416.60" x2="385.00" y2="416.60" stroke="#222" stroke-width="1.5" stroke-linecap="butt"/>
<line x1="398.20" y1="355.40" x2="422.10" y2="355.40" stroke="#222" stroke-width="1.5" stroke-linecap="butt"/>
<line x1="435.20" y1="391.90" x2="458.80" y2="391.90" stroke="#222" stroke-width="1.5" stroke-linecap="butt"/>
<line x1="472.30" y1="404.60" x2="495.80" y2="404.60" stroke="#222" stroke-width="1.5" stroke-linecap="butt"/>
<circle cx="373.40" cy="399.30" r="3.8" fill="#44195a"/>
<circle cx="365.00" cy="410.60" r="3.8" fill="#44195a"/>
<circle cx="370.50" cy="409.10" r="3.8" fill="#44195a"/>
<circle cx="370.50" cy="417.60" r="3.8" fill="#44195a"/>
<circle cx="376.30" cy="415.10" r="3.8" fill="#44195a"/>
<circle cx="381.60" cy="416.30" r="3.8" fill="#44195a"/>
<circle cx="373.40" cy="431.30" r="3.8" fill="#44195a"/>
<circle cx="367.50" cy="436.10" r="3.8" fill="#44195a"/>
<circle cx="379.10" cy="435.90" r="3.8" fill="#44195a"/>
<circle cx="373.40" cy="399.30" r="3.3" fill="#5a2873"/>
<circle cx="365.00" cy="410.60" r="3.3" fill="#5a2873"/>
<circle cx="370.50" cy="409.10" r="3.3" fill="#5a2873"/>
<circle cx="370.50" cy="417.60" r="3.3" fill="#5a2873"/>
<circle cx="376.30" cy="415.10" r="3.3" fill="#5a2873"/>
<circle cx="381.60" cy="416.30" r="3.3" fill="#5a2873"/>
<circle cx="373.40" cy="431.30" r="3.3" fill="#5a2873"/>
<circle cx="367.50" cy="436.10" r="3.3" fill="#5a2873"/>
<circle cx="379.10" cy="435.90" r="3.3" fill="#5a2873"/>
<circle cx="401.70" cy="343.90" r="3.5" fill="#c8102e"/>
<circle cx="401.70" cy="352.80" r="3.5" fill="#c8102e"/>
<circle cx="401.70" cy="364.50" r="3.5" fill="#c8102e"/>
<circle cx="407.20" cy="358.50" r="3.5" fill="#c8102e"/>
<circle cx="412.80" cy="351.20" r="3.5" fill="#c8102e"/>
<circle cx="418.80" cy="348.70" r="3.5" fill="#c8102e"/>
<circle cx="412.80" cy="362.40" r="3.5" fill="#c8102e"/>
<circle cx="418.80" cy="359.00" r="3.5" fill="#c8102e"/>
<circle cx="446.60" cy="351.00" r="3.5" fill="#3bb44a"/>
<circle cx="446.60" cy="369.00" r="3.5" fill="#3bb44a"/>
<circle cx="444.90" cy="376.60" r="3.5" fill="#3bb44a"/>
<circle cx="448.70" cy="381.40" r="3.5" fill="#3bb44a"/>
<circle cx="442.70" cy="391.50" r="3.5" fill="#3bb44a"/>
<circle cx="446.70" cy="393.30" r="3.5" fill="#3bb44a"/>
<circle cx="451.00" cy="391.50" r="3.5" fill="#3bb44a"/>
<circle cx="438.10" cy="395.60" r="3.5" fill="#3bb44a"/>
<circle cx="455.40" cy="397.90" r="3.5" fill="#3bb44a"/>
<circle cx="480.80" cy="396.50" r="3.8" fill="#0a3b68"/>
<circle cx="486.50" cy="394.60" r="3.8" fill="#0a3b68"/>
<circle cx="492.30" cy="397.30" r="3.8" fill="#0a3b68"/>
<circle cx="475.00" cy="401.50" r="3.8" fill="#0a3b68"/>
<circle cx="480.80" cy="408.10" r="3.8" fill="#0a3b68"/>
<circle cx="492.30" cy="410.00" r="3.8" fill="#0a3b68"/>
<circle cx="486.50" cy="414.20" r="3.8" fill="#0a3b68"/>
<circle cx="475.00" cy="415.40" r="3.8" fill="#0a3b68"/>
<circle cx="480.80" cy="396.50" r="3.3" fill="#0f4f88"/>
<circle cx="486.50" cy="394.60" r="3.3" fill="#0f4f88"/>
<circle cx="492.30" cy="397.30" r="3.3" fill="#0f4f88"/>
<circle cx="475.00" cy="401.50" r="3.3" fill="#0f4f88"/>
<circle cx="480.80" cy="408.10" r="3.3" fill="#0f4f88"/>
<circle cx="492.30" cy="410.00" r="3.3" fill="#0f4f88"/>
<circle cx="486.50" cy="414.20" r="3.3" fill="#0f4f88"/>
<circle cx="475.00" cy="415.40" r="3.3" fill="#0f4f88"/>
<polyline points="400.50,331.70 400.50,308.60 493.70,308.60 493.70,384.90" stroke="#1a1a1a" stroke-width="1.3" fill="none" stroke-linejoin="miter"/>
<line x1="402.50" y1="337.70" x2="446.80" y2="337.70" stroke="#1a1a1a" stroke-width="1.3" stroke-linecap="butt"/>
<line x1="448.30" y1="343.20" x2="491.00" y2="343.20" stroke="#1a1a1a" stroke-width="1.3" stroke-linecap="butt"/>
<polygon points="431.10,299.70 431.84,301.48 433.76,301.63 432.30,302.89 432.75,304.77 431.10,303.76 429.45,304.77 429.90,302.89 428.44,301.63 430.36,301.48" fill="#111"/>
<polygon points="437.23,299.70 437.97,301.48 439.89,301.63 438.43,302.89 438.88,304.77 437.23,303.76 435.58,304.77 436.03,302.89 434.57,301.63 436.49,301.48" fill="#111"/>
<polygon points="443.36,299.70 444.10,301.48 446.02,301.63 444.56,302.89 445.01,304.77 443.36,303.76 441.71,304.77 442.16,302.89 440.70,301.63 442.62,301.48" fill="#111"/>
<polygon points="449.49,299.70 450.23,301.48 452.15,301.63 450.69,302.89 451.14,304.77 449.49,303.76 447.84,304.77 448.29,302.89 446.83,301.63 448.75,301.48" fill="#111"/>
<polygon points="414.10,329.60 414.84,331.38 416.76,331.53 415.30,332.79 415.75,334.67 414.10,333.66 412.45,334.67 412.90,332.79 411.44,331.53 413.36,331.38" fill="#111"/>
<polygon points="420.23,329.60 420.97,331.38 422.89,331.53 421.43,332.79 421.88,334.67 420.23,333.66 418.58,334.67 419.03,332.79 417.57,331.53 419.49,331.38" fill="#111"/>
<polygon points="426.36,329.60 427.10,331.38 429.02,331.53 427.56,332.79 428.01,334.67 426.36,333.66 424.71,334.67 425.16,332.79 423.70,331.53 425.62,331.38" fill="#111"/>
<polygon points="432.49,329.60 433.23,331.38 435.15,331.53 433.69,332.79 434.14,334.67 432.49,333.66 430.84,334.67 431.29,332.79 429.83,331.53 431.75,331.38" fill="#111"/>
<text x="461.31" y="340.60" font-size="14" font-weight="normal" fill="#231f20" text-anchor="start" textLength="14.18" lengthAdjust="spacingAndGlyphs" stroke="#231f20" stroke-width="0.2">ns</text>
<polyline points="372.70,439.10 372.70,442.00 463.00,442.00 463.00,423.70" stroke="#111" stroke-width="1.35" fill="none" stroke-linejoin="miter"/>
<line x1="440.30" y1="423.75" x2="485.20" y2="423.75" stroke="#333" stroke-width="1.6" stroke-linecap="butt"/>
<text x="406.89" y="439.20" font-size="15" font-weight="normal" fill="#231f20" text-anchor="start" textLength="16.06" lengthAdjust="spacingAndGlyphs" stroke="#231f20" stroke-width="0.2">ns</text>
<rect x="0.8" y="0.8" width="518.4" height="546.4" fill="none" stroke="#000" stroke-width="1.6"/>
</svg>
</body></html>
